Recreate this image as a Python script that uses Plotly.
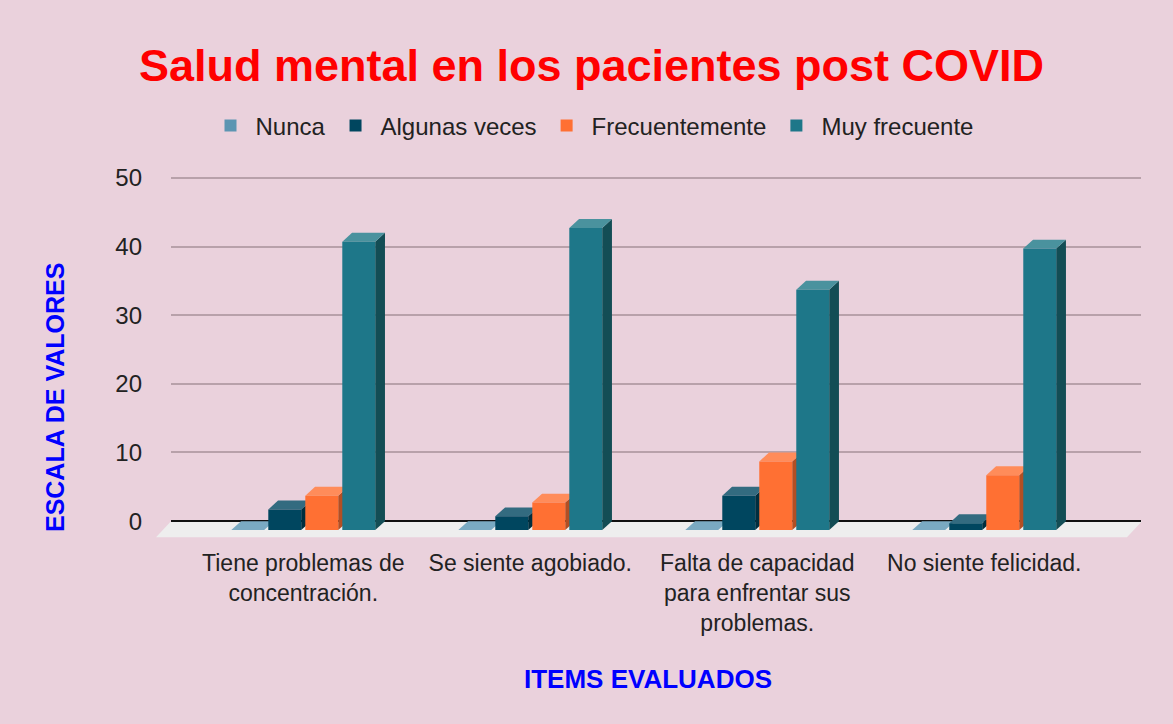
import plotly.graph_objects as go

# ---------------- data ----------------
categories = [
    "Tiene problemas de<br>concentración.",
    "Se siente agobiado.",
    "Falta de capacidad<br>para enfrentar sus<br>problemas.",
    "No siente felicidad.",
]
series_names = ["Nunca", "Algunas veces", "Frecuentemente", "Muy frecuente"]
nunca = [0, 0, 0, 0]
algunas_veces = [3, 2, 5, 1]
frecuentemente = [5, 4, 10, 8]
muy_frecuente = [42, 44, 35, 41]
y_ticks = [0, 10, 20, 30, 40, 50]

series_values = [nunca, algunas_veces, frecuentemente, muy_frecuente]

# ---------------- styling ----------------
front_colors = ["#5c95b2", "#00465f", "#ff7033", "#1e7789"]
top_colors = ["#7aaac2", "#336b80", "#ff8c5a", "#4a929e"]
side_colors = ["#4a7a92", "#002e3e", "#b24f24", "#134d55"]
BG = "#ead1dc"

FIG_W, FIG_H = 1173, 724
PLOT_L, PLOT_R = 171, 1141
X_RANGE = [-0.6256, 3.6476]
Y_RANGE = [-2.6, 51]
PX_PER_UNIT = 6.86
ZERO_PX = 521
PLOT_T = ZERO_PX - Y_RANGE[1] * PX_PER_UNIT
PLOT_B = ZERO_PX - Y_RANGE[0] * PX_PER_UNIT

DX = 0.043      # bar depth (category units)
DY = 1.3        # bar depth (value units)
SLOT = 0.163
BAR_W = 0.145
FLOOR_DX = 0.066
FLOOR_DY = 2.33


def px_to_paper_x(px):
    return (px - PLOT_L) / (PLOT_R - PLOT_L)


def px_to_paper_y(py):
    return (PLOT_B - py) / (PLOT_B - PLOT_T)


def data_to_paper_x(x):
    return (x - X_RANGE[0]) / (X_RANGE[1] - X_RANGE[0])


def data_to_paper_y(y):
    return (y - Y_RANGE[0]) / (Y_RANGE[1] - Y_RANGE[0])


fig = go.Figure()
shapes = []

n_cat = len(categories)
n_ser = len(series_names)
front_x = [i - DX for i in range(n_cat)]

for k, (name, vals) in enumerate(zip(series_names, series_values)):
    off = (k - n_ser / 2) * SLOT + (SLOT - BAR_W) / 2
    fig.add_trace(go.Bar(
        name=name,
        x=front_x,
        y=vals,
        base=[-DY] * n_cat,
        width=BAR_W,
        offset=off,
        marker=dict(color=front_colors[k], line=dict(width=0)),
        hoverinfo="skip",
    ))
    for i, v in enumerate(vals):
        xl = front_x[i] + off
        xr = xl + BAR_W
        top = (f"M {xl} {v - DY} L {xr} {v - DY} L {xr + DX} {v} "
               f"L {xl + DX} {v} Z")
        side = (f"M {xr} {-DY} L {xr} {v - DY} L {xr + DX} {v} "
                f"L {xr + DX} 0 Z")
        shapes.append(dict(type="path", path=side, xref="x", yref="y",
                           fillcolor=side_colors[k], line=dict(width=0),
                           layer="between"))
        shapes.append(dict(type="path", path=top, xref="x", yref="y",
                           fillcolor=top_colors[k], line=dict(width=0),
                           layer="between"))

# floor
fx0b = data_to_paper_x(X_RANGE[0])
fx1b = data_to_paper_x(X_RANGE[1]) + 0.001
fx0f = data_to_paper_x(X_RANGE[0] - FLOOR_DX)
fx1f = data_to_paper_x(X_RANGE[1] - FLOOR_DX) + 0.001
fyb = data_to_paper_y(0)
fyf = data_to_paper_y(-FLOOR_DY)
shapes.insert(0, dict(
    type="path", xref="paper", yref="paper", layer="below",
    path=f"M {fx0b} {fyb} L {fx1b} {fyb} L {fx1f} {fyf} L {fx0f} {fyf} Z",
    fillcolor="#eeeeee", line=dict(width=0)))

FONT = "Liberation Sans, Arial, sans-serif"

fig.update_layout(
    width=FIG_W, height=FIG_H,
    paper_bgcolor=BG, plot_bgcolor="rgba(0,0,0,0)",
    margin=dict(l=PLOT_L, r=FIG_W - PLOT_R, t=PLOT_T, b=FIG_H - PLOT_B,
                autoexpand=False),
    barmode="overlay",
    showlegend=True,
    font=dict(family=FONT, size=22, color="#222222"),
    title=dict(
        text="<b>Salud mental en los pacientes post COVID</b>",
        font=dict(family=FONT, size=45, color="#ff0000"),
        x=591.5 / FIG_W, xanchor="center",
        y=1 - 65 / FIG_H, yanchor="middle", yref="container",
    ),
    legend=dict(
        orientation="h",
        x=592 / FIG_W, xanchor="center", xref="container",
        y=1 - 126 / FIG_H, yanchor="middle", yref="container",
        font=dict(family=FONT, size=24, color="#222222"),
        bgcolor="rgba(0,0,0,0)",
        itemwidth=40,
    ),
    xaxis=dict(
        range=X_RANGE,
        tickmode="array",
        tickvals=front_x,
        ticktext=categories,
        showgrid=False, zeroline=False, showline=False,
        ticks="", ticklabelstandoff=8,
        tickfont=dict(family=FONT, size=23, color="#222222"),
        fixedrange=True,
    ),
    yaxis=dict(
        range=Y_RANGE,
        tickmode="array",
        tickvals=y_ticks,
        ticktext=[str(t) for t in y_ticks],
        showgrid=True, gridcolor="#b8a1aa", gridwidth=1.5,
        zeroline=True, zerolinecolor="#111111", zerolinewidth=2,
        showline=False, ticks="", ticklabelstandoff=28,
        tickfont=dict(family=FONT, size=24, color="#222222"),
        fixedrange=True,
    ),
    shapes=shapes,
    annotations=[
        dict(text="<b>ESCALA DE VALORES</b>", textangle=-90,
             xref="paper", yref="paper",
             x=px_to_paper_x(55), y=px_to_paper_y(398),
             xanchor="center", yanchor="middle", showarrow=False,
             font=dict(family=FONT, size=25, color="#0000ff")),
        dict(text="<b>ITEMS EVALUADOS</b>",
             xref="paper", yref="paper",
             x=px_to_paper_x(648), y=px_to_paper_y(679),
             xanchor="center", yanchor="middle", showarrow=False,
             font=dict(family=FONT, size=26, color="#0000ff")),
    ],
)

fig.write_html(
    "out.html",
    config={"displayModeBar": False},
    post_script="document.body.style.margin='0px';"
                "document.body.style.overflow='hidden';",
)
